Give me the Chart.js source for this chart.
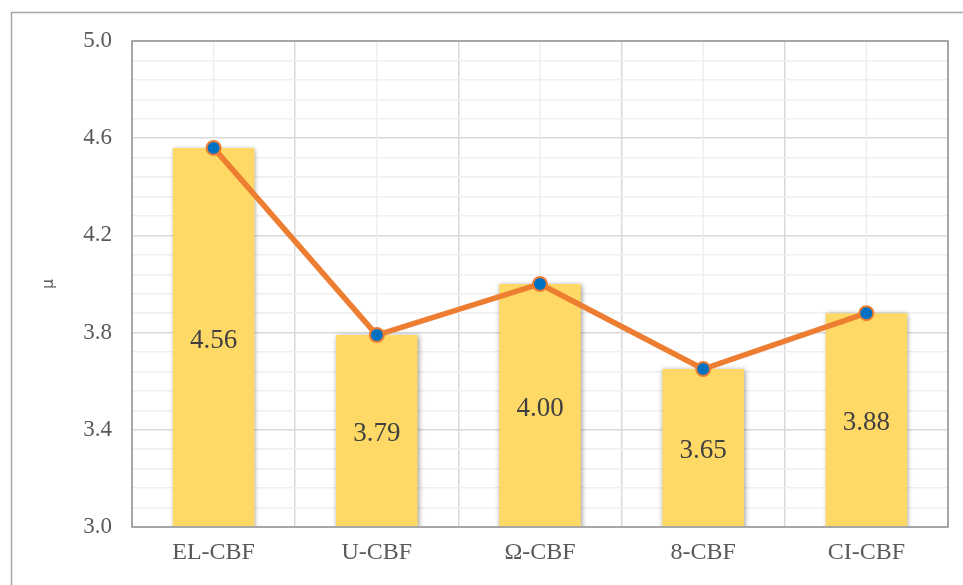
<!DOCTYPE html>
<html>
<head>
  <title>μ chart</title>
  <script src="https://cdn.jsdelivr.net/npm/chart.js"></script>
  <style>
    html, body {
        margin: 0;
        padding: 0;
        background: #fff;
    }
    .wrap {
        position: relative;
        width: 963px;
        height: 585px;
    }
  </style>
</head>
<body>
  <div class="wrap">
    <canvas id="muChart" width="963" height="585"></canvas>
  </div>

  <script>
    // data
    const categories = ['EL-CBF', 'U-CBF', 'Ω-CBF', '8-CBF', 'CI-CBF'];
    const muValues = [4.56, 3.79, 4.00, 3.65, 3.88];
    const yTickLabels = ['3.0', '3.4', '3.8', '4.2', '4.6', '5.0'];

    const serif = "'Liberation Serif', 'Times New Roman', serif";

    // outer frame, minor vertical lines, plot border, value labels
    const framePlugin = {
      id: 'frame',
      beforeDraw(chart) {
        const c = chart.ctx;
        c.save();
        c.strokeStyle = '#a8a8a8';
        c.lineWidth = 1.5;
        c.beginPath();
        c.moveTo(11.5, 700);
        c.lineTo(11.5, 12.5);
        c.lineTo(1000, 12.5);
        c.stroke();
        c.restore();
      },
      beforeDatasetsDraw(chart) {
        const c = chart.ctx;
        const a = chart.chartArea;
        const x = chart.scales.x;
        c.save();
        c.strokeStyle = '#efefef';
        c.lineWidth = 1.5;
        categories.forEach((_, i) => {
          const px = x.getPixelForValue(i);
          c.beginPath();
          c.moveTo(px, a.top);
          c.lineTo(px, a.bottom);
          c.stroke();
        });
        c.restore();
      },
      afterDraw(chart) {
        const c = chart.ctx;
        const a = chart.chartArea;
        const xs = chart.scales.x;
        const ys = chart.scales.y;
        c.save();
        c.strokeStyle = '#a6a6a6';
        c.lineWidth = 2;
        c.strokeRect(a.left, a.top, a.right - a.left, a.bottom - a.top);
        c.restore();

        // labels in the middle of each bar
        c.save();
        c.font = '27px "Liberation Serif", serif';
        c.fillStyle = '#404040';
        c.textAlign = 'center';
        c.textBaseline = 'middle';
        muValues.forEach((v, i) => {
          const px = xs.getPixelForValue(i);
          const py = (ys.getPixelForValue(v) + ys.getPixelForValue(ys.min)) / 2 + 3;
          c.fillText(v.toFixed(2), px, py);
        });
        c.restore();
      }
    };

    // soft shadow on the bars only
    const shadowPlugin = {
      id: 'barShadow',
      beforeDatasetDraw(chart, args) {
        if (args.index === 1) {
          const c = chart.ctx;
          c.save();
          c.shadowColor = 'rgba(0,0,0,0.4)';
          c.shadowBlur = 5;
          c.shadowOffsetX = 1;
          c.shadowOffsetY = 1;
        }
      },
      afterDatasetDraw(chart, args) {
        if (args.index === 1) {
          chart.ctx.restore();
        }
      }
    };

    new Chart(document.getElementById('muChart'), {
      data: {
        labels: categories,
        datasets: [
          {
            type: 'line',
            data: muValues,
            borderColor: '#ED7D31',
            borderWidth: 5.5,
            pointRadius: 7,
            pointBackgroundColor: '#0070C0',
            pointBorderColor: '#ED7D31',
            pointBorderWidth: 2,
            tension: 0,
            order: 0
          },
          {
            type: 'bar',
            data: muValues,
            backgroundColor: '#FFD966',
            barPercentage: 0.5,
            categoryPercentage: 1,
            order: 1
          }
        ]
      },
      options: {
        responsive: false,
        animation: false,
        layout: {
          padding: { top: 41, right: 15, left: 0, bottom: 0 }
        },
        plugins: {
          legend: { display: false },
          tooltip: { enabled: false }
        },
        scales: {
          x: {
            offset: true,
            grid: {
              offset: true,
              color: '#d9d9d9',
              lineWidth: 1.5,
              drawTicks: false
            },
            border: { display: false },
            ticks: {
              color: '#595959',
              font: { family: serif, size: 24 },
              padding: 11
            },
            afterFit(scale) { scale.height = 58; }
          },
          y: {
            min: 3,
            max: 5,
            ticks: {
              stepSize: 0.08,
              maxTicksLimit: 40,
              autoSkip: false,
              color: '#595959',
              font: { family: serif, size: 23 },
              padding: 20,
              callback: (v, i) => (i % 5 === 0 ? yTickLabels[i / 5] : '')
            },
            grid: {
              color: ctx => (ctx.index % 5 === 0 ? '#d9d9d9' : '#efefef'),
              lineWidth: 1.5,
              drawTicks: false
            },
            border: { display: false },
            title: {
              display: true,
              text: 'μ',
              color: '#595959',
              font: { family: "'DejaVu Sans', sans-serif", size: 15 },
              padding: { top: 40, bottom: 0 }
            },
            afterFit(scale) { scale.width = 132; }
          }
        }
      },
      plugins: [framePlugin, shadowPlugin]
    });
  </script>
</body>
</html>
